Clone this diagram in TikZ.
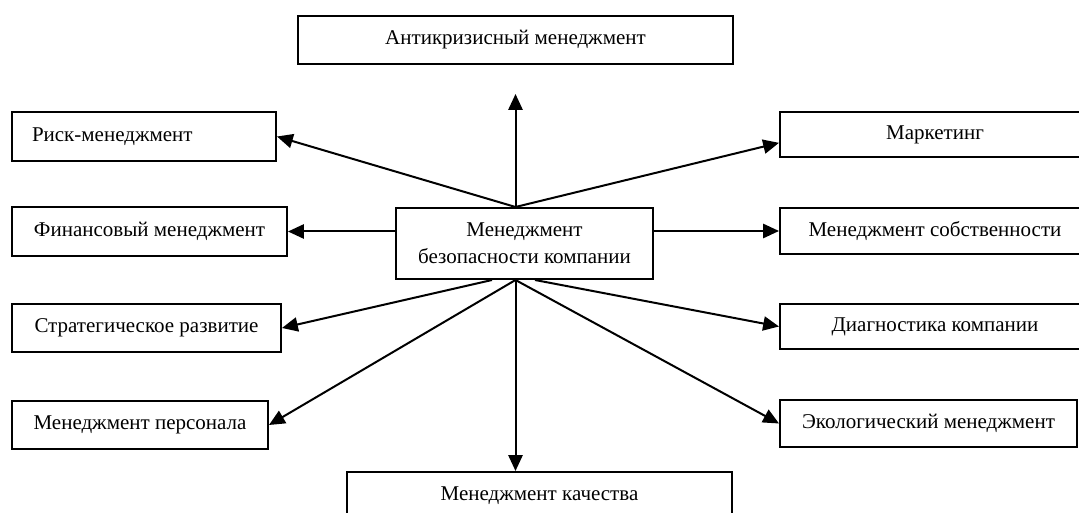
\documentclass[tikz,border=0pt]{standalone}
\usepackage{fontspec}
\setmainfont{Liberation Serif}
\usetikzlibrary{arrows.meta,calc}
\begin{document}
\begin{tikzpicture}[x=0.6pt,y=-0.6pt,
    box/.style={draw,line width=1.2pt,inner sep=0pt,font=\fontsize{12.6}{16}\selectfont},
    sz/.style 2 args={minimum width=#1*0.6pt,minimum height=#2*0.6pt},
    arr/.style={-{Triangle[length=9.5pt,width=8.5pt]},line width=1.2pt}]
      \useasboundingbox (0,0) rectangle (1079,513);
      \node[box,sz={435}{48}] (anti) at (515.5,40) {Антикризисный менеджмент};
      \node[box,sz={264}{49},text width=134.4pt,align=left,inner xsep=12pt] (risk) at (144,136.5) {Риск-менеджмент};
      \node[box,sz={275}{49}] (fin) at (149.5,231.5) {Финансовый менеджмент};
      \node[box,sz={269}{48}] (strat) at (146.5,328) {Стратегическое развитие};
      \node[box,sz={256}{48}] (pers) at (140,425) {Менеджмент персонала};
      \node[box,sz={257}{71},align=center] (ctr) at (524.5,243.5) {Менеджмент\\безопасности компании};
      \node[box,sz={310}{45}] (mark) at (935,134.5) {Маркетинг};
      \node[box,sz={310}{46}] (own) at (935,231) {Менеджмент собственности};
      \node[box,sz={310}{45}] (diag) at (935,326.5) {Диагностика компании};
      \node[box,sz={297}{47}] (eco) at (928.5,423.5) {Экологический менеджмент};
      \node[box,sz={385}{48}] (qual) at (539.5,496) {Менеджмент качества};
      \draw[arr,shorten >=17.4pt] (ctr.north -| anti) -- (anti.south);
      \draw[arr] (ctr.north -| anti) -- (risk.east);
      \draw[arr] (ctr.north -| anti) -- ([yshift=-5pt]mark.west);
      \draw[arr] (ctr.west |- fin) -- (fin.east);
      \draw[arr] (ctr.east |- own) -- (own.west);
      \draw[arr] ($(ctr.south -| anti)+(-23.5,0)$) -- (strat.east);
      \draw[arr] (ctr.south -| anti) -- (pers.east);
      \draw[arr] (ctr.south -| anti) -- (qual.north -| anti);
      \draw[arr] ($(ctr.south -| anti)+(19.5,0)$) -- (diag.west);
      \draw[arr] (ctr.south -| anti) -- (eco.west);
\end{tikzpicture}
\end{document}
